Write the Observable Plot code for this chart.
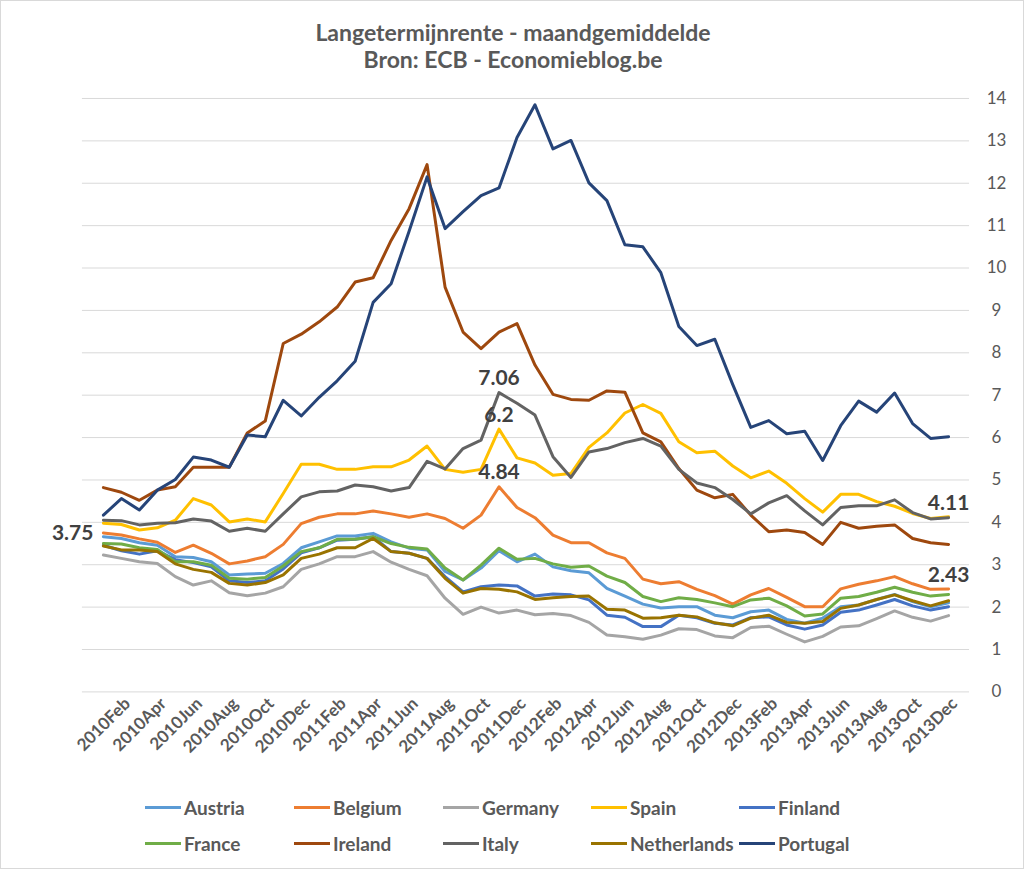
<!DOCTYPE html>
<html>
<head>
<meta charset="utf-8">
<script src="https://cdn.jsdelivr.net/npm/d3@7"></script>
<script src="https://cdn.jsdelivr.net/npm/@observablehq/plot@0.6"></script>
<style>
  html, body { margin: 0; padding: 0; background: #fff; }
  #wrap { position: relative; width: 1024px; height: 869px; box-sizing: border-box; border: 1px solid #d9d9d9; font-family: Lato, "Open Sans", sans-serif; color: #595959; overflow: hidden; }
  #title { position: absolute; left: 0; top: 18px; width: 1024px; text-align: center; font-weight: 700; font-size: 23px; line-height: 27px; color: #595959; }
  #chart { position: absolute; left: -1px; top: 73px; }
  .leg { position: absolute; display: flex; align-items: center; font-weight: 700; font-size: 19px; color: #595959; white-space: nowrap; }
  .sw { width: 36px; height: 3px; margin-right: 3px; }
</style>
</head>
<body>
<div id="wrap">
  <div id="title">Langetermijnrente - maandgemiddelde<br>Bron: ECB - Economieblog.be</div>
  <div id="chart"></div>
</div>
<script>
const months = [
  "2010Jan","2010Feb","2010Mar","2010Apr","2010May","2010Jun","2010Jul","2010Aug","2010Sep","2010Oct","2010Nov","2010Dec",
  "2011Jan","2011Feb","2011Mar","2011Apr","2011May","2011Jun","2011Jul","2011Aug","2011Sep","2011Oct","2011Nov","2011Dec",
  "2012Jan","2012Feb","2012Mar","2012Apr","2012May","2012Jun","2012Jul","2012Aug","2012Sep","2012Oct","2012Nov","2012Dec",
  "2013Jan","2013Feb","2013Mar","2013Apr","2013May","2013Jun","2013Jul","2013Aug","2013Sep","2013Oct","2013Nov","2013Dec"
];
const tickLabels = [
  "2010Feb","2010Apr","2010Jun","2010Aug","2010Oct","2010Dec",
  "2011Feb","2011Apr","2011Jun","2011Aug","2011Oct","2011Dec",
  "2012Feb","2012Apr","2012Jun","2012Aug","2012Oct","2012Dec",
  "2013Feb","2013Apr","2013Jun","2013Aug","2013Oct","2013Dec"
];
const yTicks = [0,1,2,3,4,5,6,7,8,9,10,11,12,13,14];

const austria = [3.66,3.62,3.52,3.46,3.19,3.17,3.07,2.76,2.78,2.80,3.03,3.40,3.54,3.68,3.68,3.74,3.54,3.39,3.35,2.84,2.64,2.92,3.33,3.07,3.25,2.95,2.86,2.81,2.44,2.26,2.07,1.98,2.01,2.01,1.81,1.75,1.89,1.93,1.71,1.62,1.74,2.01,2.05,2.18,2.30,2.13,2.01,2.10];
const belgium = [3.75,3.70,3.61,3.53,3.29,3.46,3.27,3.02,3.09,3.19,3.48,3.97,4.12,4.20,4.20,4.27,4.20,4.12,4.20,4.09,3.86,4.17,4.84,4.35,4.11,3.70,3.52,3.52,3.28,3.15,2.66,2.55,2.60,2.42,2.27,2.07,2.29,2.44,2.23,2.01,2.01,2.43,2.54,2.62,2.72,2.55,2.42,2.43];
const germany = [3.23,3.15,3.07,3.03,2.72,2.52,2.62,2.34,2.27,2.33,2.48,2.89,3.02,3.19,3.19,3.31,3.06,2.89,2.74,2.21,1.83,2.00,1.86,1.93,1.82,1.85,1.80,1.64,1.34,1.30,1.24,1.34,1.49,1.47,1.32,1.28,1.52,1.55,1.36,1.18,1.31,1.53,1.56,1.73,1.91,1.76,1.67,1.80];
const spain = [3.98,3.95,3.82,3.87,4.05,4.56,4.41,4.01,4.08,4.01,4.68,5.37,5.37,5.25,5.25,5.31,5.31,5.47,5.80,5.25,5.18,5.25,6.2,5.52,5.40,5.11,5.15,5.77,6.11,6.58,6.78,6.57,5.90,5.64,5.68,5.33,5.05,5.21,4.92,4.56,4.24,4.66,4.66,4.49,4.38,4.21,4.09,4.13];
const finland = [3.46,3.33,3.25,3.33,3.12,3.05,2.95,2.62,2.58,2.62,2.90,3.28,3.40,3.58,3.60,3.66,3.31,3.27,3.15,2.72,2.36,2.48,2.52,2.50,2.26,2.31,2.29,2.17,1.81,1.76,1.54,1.54,1.81,1.75,1.62,1.58,1.75,1.77,1.58,1.48,1.58,1.88,1.93,2.05,2.18,2.03,1.93,2.01];
const france = [3.50,3.49,3.40,3.36,3.07,3.07,2.99,2.68,2.66,2.70,2.97,3.31,3.40,3.60,3.60,3.66,3.50,3.41,3.37,2.92,2.64,2.99,3.39,3.13,3.15,3.02,2.94,2.97,2.73,2.58,2.25,2.13,2.22,2.18,2.10,2.01,2.17,2.21,2.03,1.79,1.84,2.21,2.25,2.35,2.47,2.35,2.26,2.30];
const ireland = [4.82,4.71,4.52,4.76,4.84,5.30,5.30,5.30,6.11,6.39,8.22,8.44,8.73,9.08,9.67,9.77,10.65,11.40,12.44,9.55,8.49,8.10,8.49,8.69,7.71,7.02,6.90,6.88,7.10,7.07,6.11,5.90,5.27,4.76,4.58,4.66,4.17,3.78,3.82,3.76,3.48,4.00,3.86,3.91,3.94,3.62,3.52,3.48];
const italy = [4.05,4.04,3.94,3.98,3.99,4.08,4.03,3.79,3.86,3.79,4.20,4.60,4.72,4.74,4.88,4.84,4.74,4.82,5.44,5.26,5.74,5.94,7.06,6.81,6.53,5.55,5.06,5.66,5.74,5.88,5.98,5.80,5.25,4.93,4.82,4.54,4.20,4.46,4.63,4.27,3.94,4.35,4.39,4.39,4.53,4.23,4.08,4.11];
const netherlands = [3.44,3.35,3.35,3.31,3.02,2.89,2.82,2.56,2.52,2.58,2.76,3.15,3.25,3.40,3.40,3.62,3.31,3.27,3.15,2.68,2.33,2.44,2.42,2.36,2.18,2.22,2.25,2.26,1.95,1.93,1.74,1.75,1.81,1.77,1.63,1.56,1.74,1.81,1.64,1.62,1.66,1.97,2.05,2.18,2.29,2.15,2.03,2.15];
const portugal = [4.17,4.56,4.29,4.76,5.01,5.54,5.47,5.30,6.06,6.02,6.88,6.51,6.95,7.34,7.80,9.19,9.63,10.87,12.15,10.93,11.33,11.71,11.89,13.08,13.85,12.81,13.01,12.01,11.59,10.55,10.50,9.89,8.62,8.17,8.32,7.25,6.24,6.40,6.09,6.15,5.46,6.28,6.86,6.60,7.05,6.33,5.98,6.02];

const countries = ["Austria","Belgium","Germany","Spain","Finland","France","Ireland","Italy","Netherlands","Portugal"];
const colors = ["#5B9BD5","#ED7D31","#A5A5A5","#FFC000","#4472C4","#70AD47","#9E480E","#636363","#997300","#264478"];
const seriesValues = [austria, belgium, germany, spain, finland, france, ireland, italy, netherlands, portugal];

// data labels: which series / month get a value label, and where
const labelSeries = ["Belgium","Italy","Spain","Belgium","Italy","Belgium"];
const labelMonths = ["2010Jan","2011Nov","2011Nov","2011Nov","2013Dec","2013Dec"];
const labelPos = ["left","top","top","top","top","top"];

const rows = [];
countries.forEach((c, k) => seriesValues[k].forEach((v, i) => rows.push({country: c, month: months[i], value: v})));

const labels = labelSeries.map((c, j) => {
  const k = countries.indexOf(c);
  const i = months.indexOf(labelMonths[j]);
  return {country: c, month: months[i], value: seriesValues[k][i], pos: labelPos[j]};
});

const marks = [
  Plot.gridY(yTicks, {stroke: "#d9d9d9", strokeOpacity: 1, strokeWidth: 1}),
  Plot.axisY(yTicks, {anchor: "right", tickSize: 0, tickPadding: 27, textAnchor: "middle", fontSize: 17, fill: "#595959"}),
  Plot.axisX(tickLabels, {anchor: "bottom", tickSize: 0, tickPadding: 9, tickRotate: -45, fontSize: 17, fontWeight: "bold", fill: "#595959", dx: 6}),
];
countries.forEach((c, k) => {
  marks.push(Plot.line(rows.filter(d => d.country === c), {x: "month", y: "value", stroke: colors[k], strokeWidth: 3, strokeLinejoin: "round", strokeLinecap: "round"}));
});
marks.push(Plot.text(labels.filter(d => d.pos === "top"), {x: "month", y: "value", text: d => String(d.value), dy: -14, fontSize: 21, fontWeight: "bold", fill: "#404040"}));
marks.push(Plot.text(labels.filter(d => d.pos === "left"), {x: "month", y: "value", text: d => String(d.value), dx: -10, textAnchor: "end", fontSize: 21, fontWeight: "bold", fill: "#404040"}));

const chart = Plot.plot({
  width: 1024,
  height: 716,
  marginLeft: 82,
  marginRight: 54,
  marginTop: 24,
  marginBottom: 98,
  style: {fontFamily: "Lato, 'Open Sans', sans-serif", background: "transparent", color: "#595959", overflow: "visible"},
  x: {type: "point", domain: months, padding: 0.5, label: null, axis: null},
  y: {domain: [0, 14], label: null, axis: null},
  marks
});
document.getElementById("chart").appendChild(chart);

// legend
const wrap = document.getElementById("wrap");
const colX = [144, 293, 442, 590, 738];
const rowY = [806, 842];
countries.forEach((c, k) => {
  const el = document.createElement("div");
  el.className = "leg";
  el.style.left = colX[k % 5] + "px";
  el.style.top = (rowY[Math.floor(k / 5)] - 12) + "px";
  el.style.height = "24px";
  const sw = document.createElement("div");
  sw.className = "sw";
  sw.style.background = colors[k];
  el.appendChild(sw);
  const t = document.createElement("span");
  t.textContent = c;
  el.appendChild(t);
  wrap.appendChild(el);
});
</script>
</body>
</html>
